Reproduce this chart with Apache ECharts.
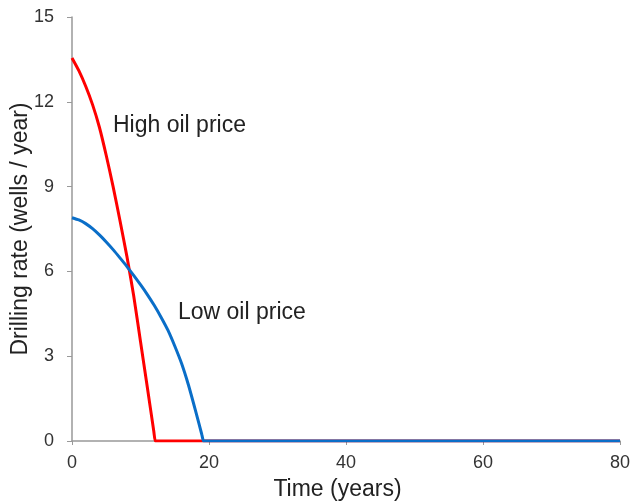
<!DOCTYPE html>
<html>
<head>
<meta charset="utf-8">
<script src="https://cdn.jsdelivr.net/npm/echarts@6/dist/echarts.min.js"></script>
<style>
  html, body { margin: 0; padding: 0; background: #fff; }
  #chart { width: 634px; height: 502px; }
</style>
</head>
<body>
<div id="chart"></div>
<script>
// Drilling rate over time for two oil price scenarios
const highTime  = [0, 1, 2, 3, 4, 5, 6, 7, 8, 9, 10, 11, 11.95, 12.15, 12.3, 20, 80];
const highRate  = [13.55, 13.1, 12.55, 11.9, 11.1, 10.1, 9.0, 7.8, 6.55, 5.15, 3.52, 1.89, 0.33, 0, 0, 0, 0];
const lowTime   = [0, 1, 2, 3, 4, 5, 6, 7, 8, 9, 10, 11, 12, 13, 14, 15, 16, 17, 18, 18.95, 19.2, 19.4, 25, 80];
const lowRate   = [7.9, 7.82, 7.69, 7.51, 7.29, 7.04, 6.77, 6.48, 6.18, 5.86, 5.53, 5.18, 4.8, 4.38, 3.92, 3.36, 2.74, 1.98, 1.1, 0.23, 0, 0, 0, 0];
const xTicks = [0, 20, 40, 60, 80];
const yTicks = [0, 3, 6, 9, 12, 15];

const FONT = 'Liberation Sans, Arial, sans-serif';
const pairs = (xs, ys) => xs.map((x, i) => [x, ys[i]]);

const chart = echarts.init(document.getElementById('chart'));
chart.setOption({
  animation: false,
  grid: { left: 72, right: 14, top: 17, bottom: 61, containLabel: false, outerBoundsMode: 'none' },
  xAxis: {
    type: 'value', min: xTicks[0], max: xTicks[xTicks.length - 1], interval: 20,
    name: 'Time (years)', nameLocation: 'middle', nameGap: 37,
    nameTextStyle: { fontFamily: FONT, fontSize: 23, color: '#222', padding: [0, 17, 0, 0] },
    axisLine: { show: true, lineStyle: { color: '#999', width: 1.5 } },
    axisTick: { show: true, length: 4, lineStyle: { color: '#999' } },
    axisLabel: { fontFamily: FONT, fontSize: 18, color: '#333', margin: 13 },
    splitLine: { show: false }
  },
  yAxis: {
    type: 'value', min: yTicks[0], max: yTicks[yTicks.length - 1], interval: 3,
    name: 'Drilling rate (wells / year)', nameLocation: 'middle', nameGap: 40,
    nameMoveOverlap: false,
    nameTextStyle: { fontFamily: FONT, fontSize: 23, color: '#222' },
    axisLine: { show: true, lineStyle: { color: '#999', width: 1.5 } },
    axisTick: { show: true, length: 5, lineStyle: { color: '#999' } },
    axisLabel: { fontFamily: FONT, fontSize: 18, color: '#333', margin: 18 },
    splitLine: { show: false }
  },
  series: [
    {
      name: 'High oil price', type: 'line', data: pairs(highTime, highRate),
      smooth: 0.2, symbol: 'none',
      lineStyle: { color: '#ff0000', width: 3 }, z: 2
    },
    {
      name: 'Low oil price', type: 'line', data: pairs(lowTime, lowRate),
      smooth: 0.2, symbol: 'none',
      lineStyle: { color: '#0a6ec8', width: 3 }, z: 3
    }
  ],
  graphic: [
    { type: 'text', x: 113, y: 126,
      style: { text: 'High oil price', font: '23px ' + FONT, fill: '#222', verticalAlign: 'middle' } },
    { type: 'text', x: 178, y: 313,
      style: { text: 'Low oil price', font: '23px ' + FONT, fill: '#222', verticalAlign: 'middle' } }
  ]
});
</script>
</body>
</html>
